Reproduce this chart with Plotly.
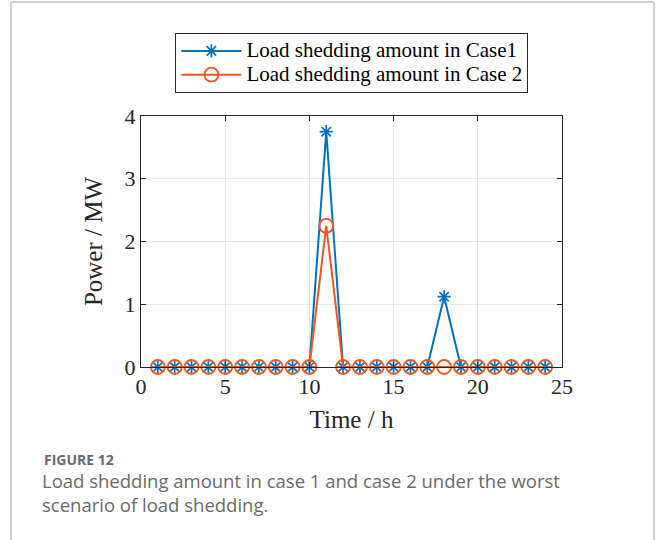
import plotly.graph_objects as go

# Hourly load shedding (MW) for the two cases
hours = list(range(1, 25))
case1_shed = [0, 0, 0, 0, 0, 0, 0, 0, 0, 0, 3.75, 0,
              0, 0, 0, 0, 0, 1.12, 0, 0, 0, 0, 0, 0]
case2_shed = [0, 0, 0, 0, 0, 0, 0, 0, 0, 0, 2.25, 0,
              0, 0, 0, 0, 0, 0, 0, 0, 0, 0, 0, 0]
case_names = ["Load shedding amount in Case1", "Load shedding amount in Case 2"]
x_ticks = [0, 5, 10, 15, 20, 25]
y_ticks = [0, 1, 2, 3, 4]

BLUE = "#0072BD"
ORANGE = "#F0561D"
SERIF = "Liberation Serif, Times New Roman, serif"


def legend_label(name):
    # larger glyphs inside a compact legend row
    return f'<span style="font-size:21px">{name}</span>'


fig = go.Figure()
fig.add_trace(go.Scatter(
    x=hours, y=case1_shed, name=legend_label(case_names[0]), mode="lines+markers",
    line=dict(color=BLUE, width=2), cliponaxis=False,
    marker=dict(symbol="asterisk-open", size=11, color=BLUE,
                line=dict(color=BLUE, width=1.7)),
))
fig.add_trace(go.Scatter(
    x=hours, y=case2_shed, name=legend_label(case_names[1]), mode="lines+markers",
    line=dict(color=ORANGE, width=2), cliponaxis=False,
    marker=dict(symbol="circle-open", size=14, color=ORANGE,
                line=dict(color=ORANGE, width=1.8)),
))

axis_common = dict(
    showline=True, linecolor="#262626", linewidth=1, mirror="ticks",
    ticks="inside", ticklen=5, tickcolor="#262626",
    showgrid=True, gridcolor="#E6E6E6", gridwidth=1,
    zeroline=False,
    tickfont=dict(family=SERIF, size=22, color="#262626"),
)

fig.update_xaxes(
    range=[0, 25], tickvals=x_ticks, **axis_common,
    title=dict(text="Time / h", font=dict(family=SERIF, size=25, color="#262626"),
               standoff=12),
)
fig.update_yaxes(
    range=[0, 4], tickvals=y_ticks, **axis_common,
    title=dict(text="Power / MW", font=dict(family=SERIF, size=25, color="#262626"),
               standoff=14),
)

fig.update_layout(
    width=656, height=540,
    margin=dict(l=141, r=94, t=116, b=173),
    paper_bgcolor="white", plot_bgcolor="white",
    showlegend=True,
    legend=dict(
        x=0.501, y=(367 - 33) / 251, xanchor="center", yanchor="top",
        bgcolor="white", bordercolor="#262626", borderwidth=1,
        font=dict(family=SERIF, size=16, color="#000000"),
        tracegroupgap=0, itemwidth=60,
    ),
    shapes=[
        # card frame around the figure
        dict(type="line", xref="paper", yref="paper",
             x0=(11 - 141) / 421, x1=(11 - 141) / 421,
             y0=(367 - 540) / 251, y1=(367 - 2) / 251,
             line=dict(color="#D0D0D0", width=2)),
        dict(type="line", xref="paper", yref="paper",
             x0=(654 - 141) / 421, x1=(654 - 141) / 421,
             y0=(367 - 540) / 251, y1=(367 - 2) / 251,
             line=dict(color="#D0D0D0", width=2)),
        dict(type="line", xref="paper", yref="paper",
             x0=(11 - 141) / 421, x1=(654 - 141) / 421,
             y0=(367 - 2) / 251, y1=(367 - 2) / 251,
             line=dict(color="#D0D0D0", width=2)),
    ],
    annotations=[
        dict(text="<b>FIGURE 12</b>", xref="paper", yref="paper",
             x=(42 - 141) / 421, y=(367 - 448) / 251,
             xanchor="left", yanchor="top", showarrow=False,
             font=dict(family="Open Sans, sans-serif", size=14, color="#6A6A6A")),
        dict(text="Load shedding amount in case 1 and case 2 under the worst<br>"
                  "scenario of load shedding.",
             xref="paper", yref="paper",
             x=(40 - 141) / 421, y=(367 - 466) / 251,
             xanchor="left", yanchor="top", align="left", showarrow=False,
             font=dict(family="Open Sans, sans-serif", size=18.5, color="#6A6A6A")),
    ],
)

fig.write_html("out.html")
